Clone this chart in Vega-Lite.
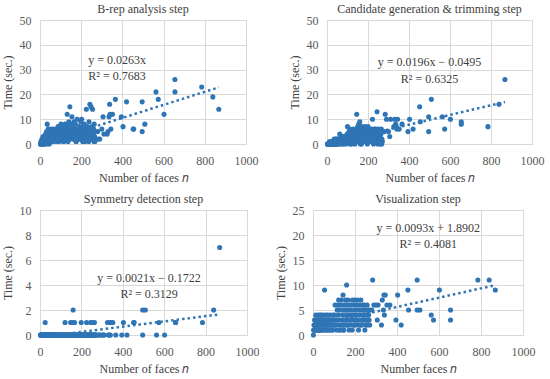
{
"$schema": "https://vega.github.io/schema/vega-lite/v6.json",
"padding": {"left": 0, "top": 2, "right": 5, "bottom": 0},
"config": {
  "font": "Liberation Serif",
  "view": {"stroke": "#d9d9d9", "strokeWidth": 1},
  "axis": {"grid": true, "gridColor": "#d9d9d9", "gridWidth": 1, "domain": false, "ticks": false, "format": "d", "labelOverlap": false, "labelFlush": false, "labelBound": false, "labelFont": "Liberation Serif", "labelFontSize": 12, "labelColor": "#595959", "titleFont": "Liberation Serif", "titleFontSize": 12, "titleFontWeight": "normal", "titleColor": "#404040"},
  "axisX": {"labelPadding": 11, "titlePadding": 6},
  "axisY": {"labelPadding": 9, "titlePadding": 5},
  "title": {"font": "Liberation Serif", "fontSize": 12, "fontWeight": "normal", "color": "#404040", "offset": -2}
},
"datasets": {
 "m": [
{"n":868,"b":14,"c":26,"s":7,"v":9},
{"n":839,"b":19,"c":16,"s":2,"v":11},
{"n":785,"b":23,"c":7,"s":1,"v":11},
{"n":655,"b":26,"c":9,"s":1,"v":5},
{"n":655,"b":21,"c":8,"s":1,"v":3},
{"n":602,"b":12,"c":10,"s":0,"v":9},
{"n":574,"b":18,"c":6,"s":1,"v":3},
{"n":563,"b":21,"c":11,"s":0,"v":4},
{"n":509,"b":8,"c":18,"s":2,"v":5},
{"n":496,"b":17,"c":11,"s":2,"v":11},
{"n":496,"b":5,"c":5,"s":0,"v":5},
{"n":452,"b":6,"c":15,"s":1,"v":9},
{"n":455,"b":6,"c":9,"s":1,"v":5},
{"n":420,"b":17,"c":6,"s":0,"v":2},
{"n":403,"b":7,"c":10,"s":1,"v":8},
{"n":395,"b":11,"c":5,"s":0,"v":3},
{"n":366,"b":18,"c":8,"s":0,"v":6},
{"n":352,"b":12,"c":6,"s":1,"v":6},
{"n":344,"b":6,"c":10,"s":1,"v":8},
{"n":338,"b":16,"c":7,"s":1,"v":8},
{"n":330,"b":5,"c":10,"s":0,"v":7},
{"n":335,"b":11,"c":8,"s":0,"v":5},
{"n":340,"b":12,"c":6,"s":0,"v":4},
{"n":326,"b":4,"c":7,"s":1,"v":2},
{"n":306,"b":11,"c":3,"s":0,"v":3},
{"n":310,"b":4,"c":10,"s":0,"v":6},
{"n":300,"b":6,"c":5,"s":0,"v":6},
{"n":284,"b":2,"c":12,"s":0,"v":11},
{"n":290,"b":2,"c":10,"s":0,"v":6},
{"n":280,"b":5,"c":5,"s":0,"v":5},
{"n":2,"b":0,"c":0,"s":0,"v":0},
{"n":4,"b":0,"c":0,"s":0,"v":1},
{"n":5,"b":1,"c":0,"s":0,"v":2},
{"n":7,"b":0,"c":0,"s":0,"v":1},
{"n":8,"b":1,"c":0,"s":0,"v":3},
{"n":10,"b":2,"c":0,"s":0,"v":1},
{"n":12,"b":1,"c":0,"s":0,"v":2},
{"n":13,"b":0,"c":1,"s":0,"v":4},
{"n":15,"b":3,"c":0,"s":0,"v":2},
{"n":17,"b":1,"c":0,"s":0,"v":3},
{"n":18,"b":2,"c":1,"s":0,"v":1},
{"n":20,"b":0,"c":0,"s":0,"v":2},
{"n":22,"b":3,"c":0,"s":0,"v":3},
{"n":24,"b":1,"c":1,"s":0,"v":4},
{"n":25,"b":2,"c":0,"s":1,"v":2},
{"n":27,"b":4,"c":1,"s":0,"v":1},
{"n":29,"b":2,"c":0,"s":0,"v":3},
{"n":30,"b":1,"c":1,"s":0,"v":2},
{"n":32,"b":5,"c":0,"s":0,"v":4},
{"n":34,"b":3,"c":1,"s":0,"v":1},
{"n":35,"b":8,"c":2,"s":0,"v":3},
{"n":37,"b":2,"c":1,"s":0,"v":2},
{"n":39,"b":4,"c":0,"s":0,"v":4},
{"n":40,"b":6,"c":1,"s":0,"v":3},
{"n":42,"b":1,"c":2,"s":0,"v":1},
{"n":44,"b":3,"c":1,"s":0,"v":2},
{"n":46,"b":5,"c":0,"s":0,"v":3},
{"n":48,"b":2,"c":2,"s":0,"v":4},
{"n":50,"b":4,"c":1,"s":0,"v":2},
{"n":52,"b":6,"c":1,"s":0,"v":1},
{"n":54,"b":3,"c":2,"s":0,"v":3},
{"n":55,"b":1,"c":0,"s":0,"v":9},
{"n":57,"b":5,"c":2,"s":0,"v":2},
{"n":60,"b":2,"c":1,"s":0,"v":4},
{"n":62,"b":4,"c":4,"s":0,"v":3},
{"n":64,"b":6,"c":2,"s":0,"v":1},
{"n":66,"b":3,"c":1,"s":0,"v":2},
{"n":68,"b":1,"c":3,"s":0,"v":3},
{"n":70,"b":5,"c":2,"s":0,"v":4},
{"n":72,"b":2,"c":1,"s":0,"v":2},
{"n":75,"b":4,"c":3,"s":0,"v":1},
{"n":77,"b":6,"c":2,"s":0,"v":3},
{"n":80,"b":3,"c":0,"s":0,"v":2},
{"n":82,"b":5,"c":2,"s":0,"v":4},
{"n":85,"b":2,"c":3,"s":0,"v":3},
{"n":88,"b":7,"c":1,"s":0,"v":2},
{"n":90,"b":4,"c":2,"s":0,"v":1},
{"n":92,"b":1,"c":3,"s":0,"v":3},
{"n":95,"b":6,"c":2,"s":0,"v":4},
{"n":98,"b":3,"c":4,"s":0,"v":2},
{"n":100,"b":5,"c":7,"s":0,"v":3},
{"n":102,"b":8,"c":1,"s":0,"v":4},
{"n":105,"b":2,"c":3,"s":0,"v":6},
{"n":108,"b":6,"c":5,"s":0,"v":2},
{"n":110,"b":4,"c":2,"s":0,"v":3},
{"n":112,"b":7,"c":6,"s":0,"v":1},
{"n":115,"b":1,"c":4,"s":0,"v":5},
{"n":118,"b":5,"c":2,"s":0,"v":6},
{"n":120,"b":3,"c":0,"s":0,"v":4},
{"n":121,"b":6,"c":3,"s":1,"v":2},
{"n":122,"b":8,"c":5,"s":0,"v":7},
{"n":125,"b":4,"c":1,"s":0,"v":3},
{"n":128,"b":2,"c":6,"s":0,"v":5},
{"n":130,"b":7,"c":3,"s":0,"v":1},
{"n":132,"b":12,"c":4,"s":0,"v":6},
{"n":135,"b":5,"c":2,"s":0,"v":7},
{"n":138,"b":3,"c":5,"s":0,"v":2},
{"n":140,"b":9,"c":1,"s":0,"v":4},
{"n":142,"b":6,"c":4,"s":0,"v":3},
{"n":143,"b":4,"c":6,"s":0,"v":8},
{"n":145,"b":15,"c":12,"s":0,"v":5},
{"n":145,"b":2,"c":3,"s":0,"v":1},
{"n":148,"b":8,"c":5,"s":1,"v":6},
{"n":150,"b":5,"c":7,"s":0,"v":3},
{"n":152,"b":3,"c":2,"s":0,"v":2},
{"n":155,"b":11,"c":8,"s":0,"v":7},
{"n":156,"b":6,"c":4,"s":1,"v":5},
{"n":158,"b":4,"c":1,"s":0,"v":4},
{"n":160,"b":7,"c":9,"s":2,"v":10},
{"n":160,"b":2,"c":3,"s":0,"v":3},
{"n":162,"b":5,"c":6,"s":0,"v":6},
{"n":165,"b":9,"c":2,"s":0,"v":2},
{"n":167,"b":3,"c":5,"s":1,"v":7},
{"n":168,"b":6,"c":0,"s":0,"v":4},
{"n":170,"b":4,"c":7,"s":0,"v":5},
{"n":172,"b":8,"c":3,"s":0,"v":1},
{"n":175,"b":1,"c":6,"s":0,"v":3},
{"n":178,"b":5,"c":4,"s":0,"v":6},
{"n":180,"b":10,"c":2,"s":0,"v":4},
{"n":182,"b":3,"c":5,"s":0,"v":2},
{"n":185,"b":6,"c":7,"s":0,"v":5},
{"n":188,"b":4,"c":1,"s":0,"v":7},
{"n":190,"b":7,"c":3,"s":0,"v":3},
{"n":192,"b":2,"c":6,"s":0,"v":4},
{"n":195,"b":5,"c":4,"s":0,"v":6},
{"n":198,"b":9,"c":2,"s":0,"v":2},
{"n":199,"b":6,"c":5,"s":1,"v":7},
{"n":200,"b":3,"c":7,"s":0,"v":4},
{"n":202,"b":10,"c":3,"s":0,"v":5},
{"n":205,"b":4,"c":6,"s":0,"v":3},
{"n":208,"b":7,"c":4,"s":0,"v":6},
{"n":210,"b":2,"c":1,"s":0,"v":4},
{"n":212,"b":5,"c":5,"s":0,"v":7},
{"n":215,"b":8,"c":3,"s":0,"v":2},
{"n":218,"b":1,"c":6,"s":0,"v":5},
{"n":220,"b":6,"c":4,"s":0,"v":3},
{"n":222,"b":4,"c":10,"s":0,"v":6},
{"n":225,"b":14,"c":2,"s":1,"v":4},
{"n":228,"b":3,"c":5,"s":0,"v":7},
{"n":230,"b":7,"c":3,"s":0,"v":5},
{"n":232,"b":5,"c":6,"s":0,"v":2},
{"n":235,"b":2,"c":4,"s":0,"v":3},
{"n":238,"b":9,"c":6,"s":0,"v":6},
{"n":240,"b":4,"c":2,"s":0,"v":4},
{"n":242,"b":16,"c":5,"s":0,"v":5},
{"n":244,"b":6,"c":13,"s":1,"v":3},
{"n":245,"b":3,"c":4,"s":0,"v":6},
{"n":248,"b":15,"c":3,"s":0,"v":4},
{"n":250,"b":5,"c":6,"s":0,"v":5},
{"n":252,"b":7,"c":1,"s":1,"v":2},
{"n":255,"b":14,"c":5,"s":0,"v":3},
{"n":258,"b":4,"c":3,"s":0,"v":6},
{"n":260,"b":6,"c":0,"s":0,"v":4},
{"n":262,"b":1,"c":5,"s":0,"v":5},
{"n":263,"b":8,"c":4,"s":1,"v":3},
{"n":265,"b":3,"c":6,"s":0,"v":4},
{"n":268,"b":5,"c":2,"s":0,"v":5},
{"n":270,"b":2,"c":1,"s":0,"v":2},
{"n":3,"b":0,"c":0,"s":0,"v":1},
{"n":6,"b":1,"c":0,"s":0,"v":2},
{"n":9,"b":0,"c":0,"s":0,"v":3},
{"n":11,"b":2,"c":0,"s":0,"v":1},
{"n":14,"b":1,"c":0,"s":0,"v":2},
{"n":16,"b":0,"c":0,"s":0,"v":1},
{"n":19,"b":2,"c":0,"s":0,"v":3},
{"n":21,"b":1,"c":0,"s":0,"v":1},
{"n":23,"b":0,"c":0,"s":0,"v":2},
{"n":26,"b":3,"c":0,"s":0,"v":3},
{"n":28,"b":1,"c":0,"s":0,"v":1},
{"n":31,"b":2,"c":1,"s":0,"v":2},
{"n":33,"b":0,"c":0,"s":0,"v":3},
{"n":36,"b":1,"c":0,"s":0,"v":1},
{"n":38,"b":3,"c":1,"s":0,"v":2},
{"n":41,"b":2,"c":0,"s":0,"v":3},
{"n":45,"b":0,"c":1,"s":0,"v":1},
{"n":47,"b":4,"c":0,"s":0,"v":2},
{"n":53,"b":2,"c":0,"s":0,"v":3},
{"n":58,"b":3,"c":1,"s":0,"v":2},
{"n":63,"b":1,"c":0,"s":0,"v":1},
{"n":69,"b":4,"c":1,"s":0,"v":2},
{"n":74,"b":2,"c":0,"s":0,"v":3},
{"n":79,"b":3,"c":2,"s":0,"v":1},
{"n":86,"b":1,"c":1,"s":0,"v":2},
{"n":93,"b":2,"c":0,"s":0,"v":1},
{"n":103,"b":3,"c":1,"s":0,"v":2},
{"n":113,"b":1,"c":0,"s":0,"v":3},
{"n":126,"b":2,"c":1,"s":0,"v":1},
{"n":136,"b":1,"c":0,"s":0,"v":2},
{"n":147,"b":3,"c":1,"s":0,"v":1},
{"n":163,"b":2,"c":0,"s":0,"v":2},
{"n":176,"b":1,"c":2,"s":0,"v":3},
{"n":187,"b":3,"c":1,"s":0,"v":1},
{"n":197,"b":2,"c":0,"s":0,"v":2},
{"n":207,"b":1,"c":1,"s":0,"v":3},
{"n":217,"b":3,"c":2,"s":0,"v":1},
{"n":227,"b":2,"c":0,"s":0,"v":2},
{"n":237,"b":1,"c":1,"s":0,"v":3},
{"n":247,"b":3,"c":0,"s":0,"v":1},
{"n":257,"b":2,"c":1,"s":0,"v":2},
{"n":267,"b":1,"c":0,"s":0,"v":3}
 ]
},
"spacing": 8,
"vconcat": [
 {"bounds": "flush", "spacing": 81, "hconcat": [
  {"width": 206, "height": 124, "title": "B-rep analysis step",
   "encoding": {
     "x": {"field": "n", "type": "quantitative", "scale": {"domain": [0, 1000]}, "axis": {"values": [0,200,400,600,800,1000], "labelOverlap": false, "labelFont": "Liberation Serif", "titleFont": "Liberation Serif", "title": "Number of faces 𝑛"}},
     "y": {"field": "b", "type": "quantitative", "scale": {"domain": [0, 50]}, "axis": {"values": [0,10,20,30,40,50], "labelOverlap": false, "labelFont": "Liberation Serif", "titleFont": "Liberation Serif", "title": "Time (sec.)"}}},
   "layer": [
    {"data": {"name": "m"}, "mark": {"type": "circle", "size": 26, "opacity": 1, "color": "#2f75b5"}},
    {"data": {"values": [{"n": 1, "b": 0.03}, {"n": 868, "b": 22.83}]}, "mark": {"type": "line", "strokeDash": [2.5, 3], "strokeWidth": 2.5, "color": "#2f75b5", "clip": true}},
    {"data": {"values": [{"n": 374, "b": 33.7, "label": "y = 0.0263x"}, {"n": 374, "b": 27.4, "label": "R² = 0.7683"}]}, "mark": {"type": "text", "font": "Liberation Serif", "fontSize": 12, "color": "#404040"}, "encoding": {"text": {"field": "label"}}}
   ]},
  {"width": 205, "height": 124, "title": "Candidate generation & trimming step",
   "encoding": {
     "x": {"field": "n", "type": "quantitative", "scale": {"domain": [0, 1000]}, "axis": {"values": [0,200,400,600,800,1000], "labelOverlap": false, "labelFont": "Liberation Serif", "titleFont": "Liberation Serif", "title": "Number of faces 𝑛"}},
     "y": {"field": "c", "type": "quantitative", "scale": {"domain": [0, 50]}, "axis": {"values": [0,10,20,30,40,50], "labelOverlap": false, "labelFont": "Liberation Serif", "titleFont": "Liberation Serif", "title": "Time (sec.)"}}},
   "layer": [
    {"data": {"name": "m"}, "mark": {"type": "circle", "size": 26, "opacity": 1, "color": "#2f75b5"}},
    {"data": {"values": [{"n": 1, "c": -0.03}, {"n": 868, "c": 16.96}]}, "mark": {"type": "line", "strokeDash": [2.5, 3], "strokeWidth": 2.5, "color": "#2f75b5", "clip": true}},
    {"data": {"values": [{"n": 500, "c": 32.9, "label": "y = 0.0196x − 0.0495"}, {"n": 500, "c": 26.2, "label": "R² = 0.6325"}]}, "mark": {"type": "text", "font": "Liberation Serif", "fontSize": 12, "color": "#404040"}, "encoding": {"text": {"field": "label"}}}
   ]}
 ]},
 {"bounds": "flush", "spacing": 66, "hconcat": [
  {"width": 207, "height": 125, "title": "Symmetry detection step",
   "encoding": {
     "x": {"field": "n", "type": "quantitative", "scale": {"domain": [0, 1000]}, "axis": {"values": [0,200,400,600,800,1000], "labelOverlap": false, "labelFont": "Liberation Serif", "titleFont": "Liberation Serif", "title": "Number of faces 𝑛"}},
     "y": {"field": "s", "type": "quantitative", "scale": {"domain": [0, 10]}, "axis": {"values": [0,2,4,6,8,10], "labelOverlap": false, "labelFont": "Liberation Serif", "titleFont": "Liberation Serif", "title": "Time (sec.)"}}},
   "layer": [
    {"data": {"name": "m"}, "mark": {"type": "circle", "size": 26, "opacity": 1, "color": "#2f75b5"}},
    {"data": {"values": [{"n": 1, "s": -0.17}, {"n": 868, "s": 1.651}]}, "mark": {"type": "line", "strokeDash": [2.5, 3], "strokeWidth": 2.5, "color": "#2f75b5", "clip": true}},
    {"data": {"values": [{"n": 527, "s": 4.54, "label": "y = 0.0021x − 0.1722"}, {"n": 527, "s": 3.28, "label": "R² = 0.3129"}]}, "mark": {"type": "text", "font": "Liberation Serif", "fontSize": 12, "color": "#404040"}, "encoding": {"text": {"field": "label"}}}
   ]},
  {"width": 210, "height": 125, "title": "Visualization step",
   "encoding": {
     "x": {"field": "n", "type": "quantitative", "scale": {"domain": [0, 1000]}, "axis": {"values": [0,200,400,600,800,1000], "labelOverlap": false, "labelFont": "Liberation Serif", "titleFont": "Liberation Serif", "title": "Number faces 𝑛"}},
     "y": {"field": "v", "type": "quantitative", "scale": {"domain": [0, 25]}, "axis": {"values": [0,5,10,15,20,25], "labelOverlap": false, "labelFont": "Liberation Serif", "titleFont": "Liberation Serif", "title": "Time (sec.)"}}},
   "layer": [
    {"data": {"name": "m"}, "mark": {"type": "circle", "size": 26, "opacity": 1, "color": "#2f75b5"}},
    {"data": {"values": [{"n": 1, "v": 1.90}, {"n": 868, "v": 9.96}]}, "mark": {"type": "line", "strokeDash": [2.5, 3], "strokeWidth": 2.5, "color": "#2f75b5", "clip": true}},
    {"data": {"values": [{"n": 549, "v": 21.4, "label": "y = 0.0093x + 1.8902"}, {"n": 549, "v": 18.3, "label": "R² = 0.4081"}]}, "mark": {"type": "text", "font": "Liberation Serif", "fontSize": 12, "color": "#404040"}, "encoding": {"text": {"field": "label"}}}
   ]}
 ]}
]
}
